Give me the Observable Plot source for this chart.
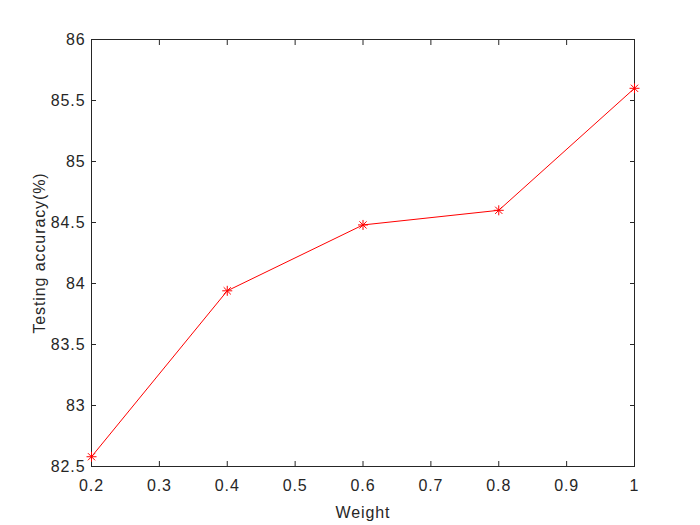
<!DOCTYPE html>
<html>
<head>
<meta charset="utf-8">
<script src="https://cdn.jsdelivr.net/npm/d3@7"></script>
<script src="https://cdn.jsdelivr.net/npm/@observablehq/plot@0.6"></script>
<style>
  html, body { margin: 0; padding: 0; background: #fff; }
  #chart svg { display: block; }
  #chart svg text { letter-spacing: 0.9px; }
</style>
</head>
<body>
<div id="chart"></div>
<script>
const weights = [0.2, 0.4, 0.6, 0.8, 1.0];
const accuracy = [82.58, 83.94, 84.48, 84.60, 85.60];
const xTicks = [0.2, 0.3, 0.4, 0.5, 0.6, 0.7, 0.8, 0.9, 1.0];
const yTicks = [82.5, 83, 83.5, 84, 84.5, 85, 85.5, 86];
const xLabel = "Weight";
const yLabel = "Testing accuracy(%)";

const data = weights.map((w, i) => ({w, a: accuracy[i]}));
const axisColor = "#262626";
const fmt = d => String(+d.toFixed(1));

// MATLAB-style '*' marker: plus + cross
const star = {
  draw(context, size) {
    const r = Math.sqrt(size / Math.PI);
    const d = r * 0.72;
    context.moveTo(0, -r); context.lineTo(0, r);
    context.moveTo(-r, 0); context.lineTo(r, 0);
    context.moveTo(-d, -d); context.lineTo(d, d);
    context.moveTo(-d, d); context.lineTo(d, -d);
  }
};

const chart = Plot.plot({
  width: 700,
  height: 525,
  marginLeft: 91,
  marginRight: 66,
  marginTop: 39,
  marginBottom: 59,
  style: {fontFamily: "'Liberation Sans', Arial, sans-serif", fontSize: "16px", color: axisColor, background: "#fff"},
  x: {domain: [0.2, 1.0]},
  y: {domain: [82.5, 86]},
  marks: [
    Plot.frame({stroke: axisColor}),
    Plot.axisX(xTicks, {anchor: "bottom", tickSize: 0, tickPadding: 13, tickFormat: fmt, label: xLabel, labelAnchor: "center", labelArrow: "none", labelOffset: 51, fill: axisColor}),
    Plot.axisY(yTicks, {anchor: "left", tickSize: 0, tickPadding: 6, tickFormat: fmt, label: yLabel, labelAnchor: "center", labelArrow: "none", labelOffset: 58, fill: axisColor}),
    Plot.axisX(xTicks, {anchor: "bottom", tickSize: 5, dy: -5, fill: "none", label: null, stroke: axisColor}),
    Plot.axisX(xTicks, {anchor: "top", tickSize: 5, dy: 5, fill: "none", label: null, stroke: axisColor}),
    Plot.axisY(yTicks, {anchor: "left", tickSize: 5, dx: 5, fill: "none", label: null, stroke: axisColor}),
    Plot.axisY(yTicks, {anchor: "right", tickSize: 5, dx: -5, fill: "none", label: null, stroke: axisColor}),
    Plot.line(data, {x: "w", y: "a", stroke: "#ff0000", strokeWidth: 1}),
    Plot.dot(data, {x: "w", y: "a", symbol: star, stroke: "#ff0000", r: 5, strokeWidth: 1})
  ]
});
document.getElementById("chart").appendChild(chart);
</script>
</body>
</html>
